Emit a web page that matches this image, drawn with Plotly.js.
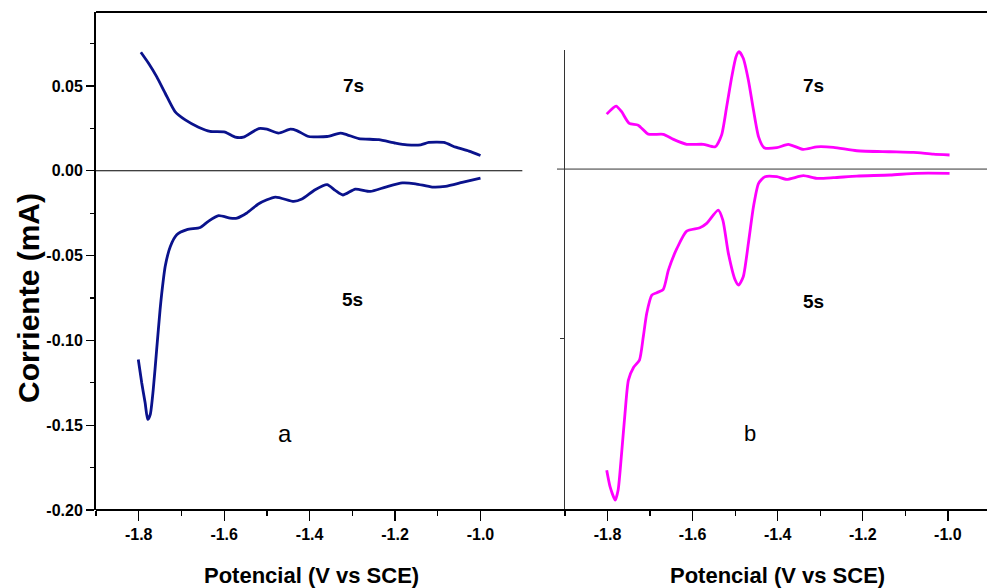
<!DOCTYPE html>
<html>
<head>
<meta charset="utf-8">
<script src="https://cdn.plot.ly/plotly-3.0.1.min.js"></script>
<style>html,body{margin:0;padding:0;background:#fff;}#chart{width:987px;height:588px;}</style>
</head>
<body>
<div id="chart"></div>
<script>
// Panel a (blue): 7s (anodic, upper) and 5s (cathodic, lower)
var aV7 = [-1.795,-1.777,-1.758,-1.738,-1.715,-1.691,-1.660,-1.633,-1.598,-1.574,-1.555,-1.519,-1.500,-1.473,-1.445,-1.430,-1.402,-1.359,-1.328,-1.312,-1.285,-1.238,-1.199,-1.172,-1.140,-1.121,-1.086,-1.058,-1.027,-1.000];
var aI7 = [0.0699,0.0634,0.0555,0.0457,0.0349,0.0300,0.0257,0.0232,0.0228,0.0198,0.0198,0.0249,0.0245,0.0222,0.0245,0.0237,0.0202,0.0202,0.0222,0.0212,0.0190,0.0183,0.0163,0.0153,0.0153,0.0167,0.0167,0.0139,0.0116,0.0090];
var aV5 = [-1.801,-1.793,-1.785,-1.779,-1.773,-1.766,-1.758,-1.750,-1.746,-1.738,-1.726,-1.711,-1.687,-1.656,-1.637,-1.613,-1.586,-1.570,-1.547,-1.519,-1.480,-1.437,-1.418,-1.387,-1.359,-1.340,-1.322,-1.293,-1.258,-1.222,-1.183,-1.152,-1.113,-1.082,-1.043,-1.000];
var aI5 = [-0.1113,-0.1250,-0.1368,-0.1466,-0.1437,-0.1290,-0.1054,-0.0818,-0.0720,-0.0563,-0.0446,-0.0377,-0.0347,-0.0334,-0.0298,-0.0265,-0.0279,-0.0279,-0.0249,-0.0194,-0.0155,-0.0181,-0.0167,-0.0112,-0.0082,-0.0116,-0.0143,-0.0108,-0.0122,-0.0096,-0.0072,-0.0077,-0.0096,-0.0092,-0.0069,-0.0043];

// Panel b (magenta)
var bV7 = [-1.802,-1.780,-1.767,-1.749,-1.728,-1.704,-1.669,-1.645,-1.614,-1.575,-1.547,-1.532,-1.520,-1.508,-1.498,-1.491,-1.481,-1.469,-1.457,-1.445,-1.432,-1.402,-1.375,-1.340,-1.308,-1.269,-1.214,-1.136,-1.081,-1.034,-0.996];
var bI7 = [0.0324,0.0371,0.0338,0.0269,0.0259,0.0206,0.0205,0.0175,0.0146,0.0146,0.0131,0.0200,0.0367,0.0544,0.0662,0.0692,0.0653,0.0525,0.0348,0.0190,0.0126,0.0126,0.0146,0.0116,0.0131,0.0128,0.0108,0.0102,0.0098,0.0088,0.0083];
var bV5 = [-1.802,-1.794,-1.782,-1.775,-1.767,-1.759,-1.751,-1.739,-1.725,-1.716,-1.708,-1.696,-1.684,-1.669,-1.657,-1.637,-1.614,-1.583,-1.567,-1.540,-1.529,-1.516,-1.500,-1.492,-1.481,-1.469,-1.457,-1.445,-1.430,-1.402,-1.379,-1.340,-1.308,-1.269,-1.214,-1.136,-1.073,-0.996];
var bI5 = [-0.1775,-0.1873,-0.1952,-0.1890,-0.1676,-0.1440,-0.1244,-0.1170,-0.1126,-0.0989,-0.0851,-0.0743,-0.0729,-0.0709,-0.0596,-0.0468,-0.0366,-0.0346,-0.0320,-0.0242,-0.0301,-0.0497,-0.0654,-0.0684,-0.0635,-0.0438,-0.0222,-0.0084,-0.0045,-0.0045,-0.0061,-0.0039,-0.0055,-0.0051,-0.0041,-0.0035,-0.0025,-0.0025];

var xTickVals = [-1.8,-1.6,-1.4,-1.2,-1.0];
var xTickText = ['-1.8','-1.6','-1.4','-1.2','-1.0'];
var yTickVals = [0.05,0.00,-0.05,-0.10,-0.15,-0.20];
var yTickText = ['0.05','0.00','-0.05','-0.10','-0.15','-0.20'];

var blue = '#0a128c', magenta = '#ff00ff';
var FONT = 'Arial, "Liberation Sans", sans-serif';

function tr(x, y, xa, ya, c) {
  return {x: x, y: y, xaxis: xa, yaxis: ya, type: 'scatter', mode: 'lines',
    line: {color: c, width: 2.8, shape: 'spline', smoothing: 0.6}, hoverinfo: 'skip', showlegend: false};
}
var data = [
  tr(aV7, aI7, 'x', 'y', blue),
  tr(aV5, aI5, 'x', 'y', blue),
  tr(bV7, bI7, 'x2', 'y2', magenta),
  tr(bV5, bI5, 'x2', 'y2', magenta)
];

var tickFont = {family: FONT, size: 16, color: '#000', weight: 'bold'};
function xax(domain, range, anchor) {
  return {domain: domain, range: range, anchor: anchor, showgrid: false, zeroline: false, showline: false,
    tickmode: 'array', tickvals: xTickVals, ticktext: xTickText, ticks: 'outside', ticklen: 10, tickwidth: 1.3,
    tickcolor: '#000', tickfont: tickFont,
    minor: {tickmode: 'array', tickvals: [-1.9,-1.7,-1.5,-1.3,-1.1], ticks: 'outside', ticklen: 5, tickwidth: 1.3, tickcolor: '#000', showgrid: false}};
}
var lblFont = {family: FONT, size: 19, weight: 'bold', color: '#000'};

var layout = {
  width: 987, height: 588,
  margin: {l: 96, r: 0, t: 12, b: 78},
  paper_bgcolor: '#fff', plot_bgcolor: '#fff',
  font: {family: FONT, color: '#000'},
  showlegend: false,
  xaxis: xax([0, 0.4785], [-1.9, -0.902], 'y'),
  yaxis: {domain: [0, 1], range: [-0.2, 0.0936], anchor: 'x', showgrid: false, zeroline: false,
    showline: true, linewidth: 2, linecolor: '#000', mirror: false,
    tickmode: 'array', tickvals: yTickVals, ticktext: yTickText, ticks: 'outside', ticklen: 8, tickwidth: 1.3, tickcolor: '#000',
    tickfont: tickFont,
    minor: {tickmode: 'array', tickvals: [0.075,0.025,-0.025,-0.075,-0.125,-0.175], ticks: 'outside', ticklen: 4, tickwidth: 1.3, tickcolor: '#000', showgrid: false}},
  xaxis2: xax([0.5264, 1], [-1.9, -0.908], 'y2'),
  yaxis2: {domain: [0, 0.9237], range: [-0.201, 0.0702], anchor: 'x2', showgrid: false, zeroline: false,
    showline: true, linewidth: 1, linecolor: '#333', showticklabels: false,
    tickmode: 'array', tickvals: [-0.1], ticks: 'outside', ticklen: 4, tickwidth: 1, tickcolor: '#333'},
  shapes: [
    {type: 'line', xref: 'paper', yref: 'paper', x0: 0, x1: 1, y0: 1, y1: 1, line: {color: '#000', width: 2}},
    {type: 'line', xref: 'paper', yref: 'paper', x0: 0, x1: 1, y0: 0, y1: 0, line: {color: '#000', width: 2}},
    {type: 'line', xref: 'x domain', yref: 'y', x0: 0, x1: 1, y0: 0, y1: 0, line: {color: '#000', width: 1}},
    {type: 'line', xref: 'paper', yref: 'y2', x0: 0.5174, x1: 1, y0: 0, y1: 0, line: {color: '#333', width: 1}}
  ],
  annotations: [
    {text: 'Corriente (mA)', xref: 'paper', yref: 'paper', x: -0.0763, y: 0.4257, textangle: -90,
     showarrow: false, xanchor: 'center', yanchor: 'middle', font: {family: FONT, size: 30, weight: 'bold', color: '#000'}},
    {text: 'Potencial (V vs SCE)', xref: 'paper', yref: 'paper', x: 0.2421, y: -0.1325,
     showarrow: false, xanchor: 'center', yanchor: 'middle', font: {family: FONT, size: 22, weight: 'bold', color: '#000'}},
    {text: 'Potencial (V vs SCE)', xref: 'paper', yref: 'paper', x: 0.7654, y: -0.1325,
     showarrow: false, xanchor: 'center', yanchor: 'middle', font: {family: FONT, size: 22, weight: 'bold', color: '#000'}},
    {text: '7s', xref: 'x', yref: 'y', x: -1.297, y: 0.050, showarrow: false, font: lblFont},
    {text: '5s', xref: 'x', yref: 'y', x: -1.300, y: -0.076, showarrow: false, font: lblFont},
    {text: 'a', xref: 'x', yref: 'y', x: -1.457, y: -0.155, showarrow: false, font: {family: FONT, size: 24, color: '#000'}},
    {text: '7s', xref: 'x2', yref: 'y2', x: -1.315, y: 0.0495, showarrow: false, font: lblFont},
    {text: '5s', xref: 'x2', yref: 'y2', x: -1.315, y: -0.078, showarrow: false, font: lblFont},
    {text: 'b', xref: 'x2', yref: 'y2', x: -1.465, y: -0.156, showarrow: false, font: {family: FONT, size: 22, color: '#000'}}
  ]
};

Plotly.newPlot('chart', data, layout, {staticPlot: true, displayModeBar: false});
</script>
</body>
</html>
